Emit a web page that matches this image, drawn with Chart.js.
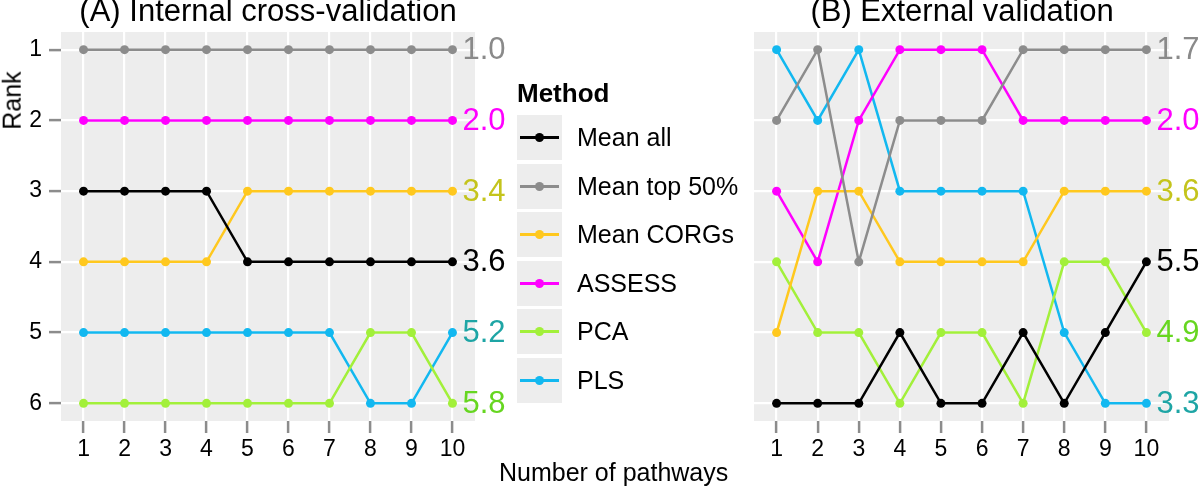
<!DOCTYPE html>
<html>
<head>
<meta charset="utf-8">
<script src="https://cdn.jsdelivr.net/npm/chart.js@4/dist/chart.umd.min.js"></script>
<style>
  body { margin: 0; background: #fff; font-family: "Liberation Sans", Arial, sans-serif; }
  #page { position: relative; width: 1200px; height: 491px; overflow: hidden; }
  canvas { position: absolute; top: 0; }
  .title { position: absolute; top: -4px; font-size: 31px; line-height: 30px; color: #000; white-space: nowrap; transform: translateX(-50%); }
  .axis-title { position: absolute; font-size: 25px; color: #000; white-space: nowrap; }
  #legend { position: absolute; left: 517px; top: 78px; }
  #legend .head { font-weight: bold; font-size: 26px; line-height: 30px; margin-bottom: 7px; }
  #legend .row { display: flex; align-items: center; height: 45px; margin-bottom: 3.5px; }
  #legend .key { position: relative; width: 45px; height: 45px; background: #EDEDED; }
  #legend .key .ln { position: absolute; left: 3px; right: 3px; top: 21px; height: 3px; }
  #legend .key .dot { position: absolute; left: 18px; top: 18px; width: 9px; height: 9px; border-radius: 50%; }
  #legend .txt { margin-left: 15px; font-size: 25px; }
</style>
</head>
<body>
<div id="page">
  <canvas id="chartA" width="520" height="491" style="left:0px"></canvas>
  <canvas id="chartB" width="500" height="491" style="left:700px"></canvas>
  <div class="title" style="left:268px">(A) Internal cross-validation</div>
  <div class="title" style="left:962px">(B) External validation</div>
  <div class="axis-title" style="left:-17px; top:86px; transform: rotate(-90deg);">Rank</div>
  <div class="axis-title" style="left:499px; top:458px;">Number of pathways</div>
  <div id="legend"></div>
</div>
<script>
// Datos
const pathways = [1, 2, 3, 4, 5, 6, 7, 8, 9, 10];
const rankTicks = [1, 2, 3, 4, 5, 6];
const methods = ['Mean all', 'Mean top 50%', 'Mean CORGs', 'ASSESS', 'PCA', 'PLS'];
const lineColors = ['#000000', '#8C8C8C', '#FFC81E', '#FF00FF', '#A2F03A', '#12B8F0'];
const labelColors = ['#000000', '#8A8A8A', '#C4C41C', '#FF00FF', '#66D620', '#1EA5A5'];

// (A) Internal cross-validation
const internalMeanAll = [3, 3, 3, 3, 4, 4, 4, 4, 4, 4];
const internalTop50 = [1, 1, 1, 1, 1, 1, 1, 1, 1, 1];
const internalCorgs = [4, 4, 4, 4, 3, 3, 3, 3, 3, 3];
const internalAssess = [2, 2, 2, 2, 2, 2, 2, 2, 2, 2];
const internalPca = [6, 6, 6, 6, 6, 6, 6, 5, 5, 6];
const internalPls = [5, 5, 5, 5, 5, 5, 5, 6, 6, 5];
const internalMeans = ['3.6', '1.0', '3.4', '2.0', '5.8', '5.2'];

// (B) External validation
const externalMeanAll = [6, 6, 6, 5, 6, 6, 5, 6, 5, 4];
const externalTop50 = [2, 1, 4, 2, 2, 2, 1, 1, 1, 1];
const externalCorgs = [5, 3, 3, 4, 4, 4, 4, 3, 3, 3];
const externalAssess = [3, 4, 2, 1, 1, 1, 2, 2, 2, 2];
const externalPca = [4, 5, 5, 6, 5, 5, 6, 4, 4, 5];
const externalPls = [1, 2, 1, 3, 3, 3, 3, 5, 6, 6];
const externalMeans = ['5.5', '1.7', '3.6', '2.0', '4.9', '3.3'];

const FONT = '"Liberation Sans", Arial, sans-serif';

// Fondo gris del panel
const panelBg = {
    id: 'panelBg',
    beforeDraw(chart) {
        const a = chart.chartArea;
        const ctx = chart.ctx;
        ctx.save();
        ctx.fillStyle = '#EDEDED';
        ctx.fillRect(a.left, a.top, a.right - a.left, a.bottom - a.top);
        ctx.restore();
    }
};

// Etiquetas con la media al final de cada linea
const endLabels = {
    id: 'endLabels',
    afterDatasetsDraw(chart, args, opts) {
        const ctx = chart.ctx;
        ctx.save();
        ctx.font = '31px ' + FONT;
        ctx.textAlign = 'left';
        ctx.textBaseline = 'middle';
        chart.data.datasets.forEach((ds, i) => {
            const meta = chart.getDatasetMeta(i);
            const pt = meta.data[meta.data.length - 1];
            ctx.fillStyle = labelColors[i];
            ctx.fillText(opts.labels[i], pt.x + 10, pt.y + 1);
        });
        ctx.restore();
    }
};

function makeDatasets(series) {
    return series.map((values, i) => ({
        label: methods[i],
        data: values.map((v, j) => ({ x: pathways[j], y: v })),
        borderColor: lineColors[i],
        backgroundColor: lineColors[i],
        borderWidth: 2.5,
        pointRadius: 4.5,
        pointBorderWidth: 0,
        tension: 0
    }));
}

function makeChart(id, series, means, showY, padLeft, padRight) {
    return new Chart(document.getElementById(id), {
        type: 'line',
        data: { datasets: makeDatasets(series) },
        plugins: [panelBg, endLabels],
        options: {
            responsive: false,
            animation: false,
            layout: { padding: { left: padLeft, right: padRight, top: 32, bottom: 0 } },
            plugins: {
                legend: { display: false },
                tooltip: { enabled: false },
                endLabels: { labels: means }
            },
            scales: {
                x: {
                    type: 'linear',
                    min: 0.45,
                    max: 10.55,
                    afterBuildTicks: s => { s.ticks = pathways.map(v => ({ value: v })); },
                    afterFit: s => { s.height = 70; },
                    border: { display: false },
                    grid: { color: '#FFFFFF', lineWidth: 2.2, tickColor: '#8C8C8C', tickWidth: 2.5, tickLength: 12 },
                    ticks: { color: '#000', font: { family: FONT, size: 23 }, padding: 3, maxRotation: 0 }
                },
                y: {
                    type: 'linear',
                    reverse: true,
                    min: 0.75,
                    max: 6.25,
                    afterBuildTicks: s => { s.ticks = rankTicks.map(v => ({ value: v })); },
                    afterFit: s => { s.width = showY ? 61 : 0; },
                    border: { display: false },
                    grid: { color: '#FFFFFF', lineWidth: 2.2, tickColor: '#8C8C8C', tickWidth: 2.5, tickLength: 12, drawTicks: showY },
                    ticks: { display: showY, color: '#000', font: { family: FONT, size: 23 }, padding: 7 }
                }
            }
        }
    });
}

makeChart('chartA',
    [internalMeanAll, internalTop50, internalCorgs, internalAssess, internalPca, internalPls],
    internalMeans, true, 0, 45);
makeChart('chartB',
    [externalMeanAll, externalTop50, externalCorgs, externalAssess, externalPca, externalPls],
    externalMeans, false, 54, 31);

// Leyenda
const legend = document.getElementById('legend');
legend.innerHTML = '<div class="head">Method</div>';
methods.forEach((m, i) => {
    const row = document.createElement('div');
    row.className = 'row';
    row.innerHTML = `<div class="key"><div class="ln" style="background:${lineColors[i]}"></div>` +
        `<div class="dot" style="background:${lineColors[i]}"></div></div><div class="txt">${m}</div>`;
    legend.appendChild(row);
});
</script>
</body>
</html>
